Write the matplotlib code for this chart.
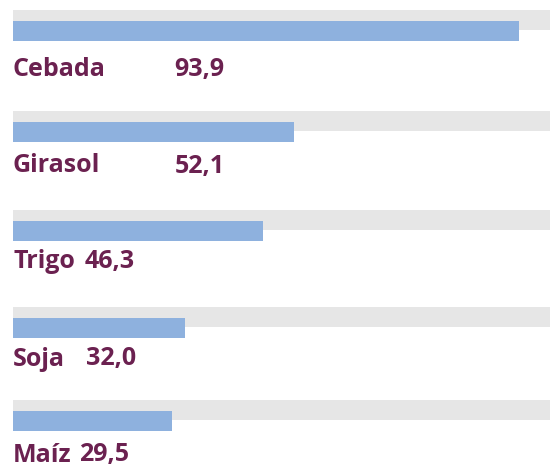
import matplotlib
matplotlib.use("Agg")
import matplotlib.pyplot as plt

# Data
categories = ["Cebada", "Girasol", "Trigo", "Soja", "Maíz"]
values = [93.9, 52.1, 46.3, 32.0, 29.5]
value_labels = ["93,9", "52,1", "46,3", "32,0", "29,5"]
max_value = 100

# Layout (pixels)
W, H = 550, 466
row_tops = [10, 111, 210, 307, 400]          # top of grey track
label_baselines = [76, 172.5, 268, 365.5, 461.5]
value_x = [174, 175, 85, 86, 79]
left_px = 13
px_per_unit = 5.389

fig = plt.figure(figsize=(W / 100, H / 100), dpi=100)
ax_left = left_px / W
ax_w = (max_value * px_per_unit) / W
ax = fig.add_axes([ax_left, 0, ax_w, 1])
ax.set_xlim(0, max_value)
ax.set_ylim(H, 0)
ax.axis("off")

grey = "#e6e6e6"
blue = "#8eb1de"
purple = "#6b2150"

track_centers = [t + 10 for t in row_tops]
bar_centers = [t + 21 for t in row_tops]
ax.barh(track_centers, [max_value] * len(values), height=20, left=0,
        color=grey, linewidth=0)
ax.barh(bar_centers, values, height=20, left=0, color=blue, linewidth=0)

tax = fig.add_axes([0, 0, 1, 1], facecolor="none")
tax.set_xlim(0, W)
tax.set_ylim(H, 0)
tax.axis("off")
for cat, vl, yb, vx in zip(categories, value_labels, label_baselines, value_x):
    tax.text(left_px, yb, cat, fontsize=18, fontweight="bold", color=purple,
             family="Open Sans", va="baseline", ha="left")
    tax.text(vx, yb, vl, fontsize=18, fontweight="bold", color=purple,
             family="Open Sans", va="baseline", ha="left")

fig.savefig("out.png", dpi=100)
